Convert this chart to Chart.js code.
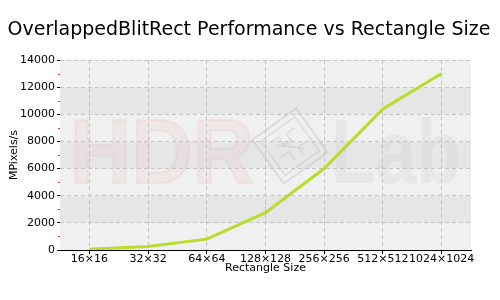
<!DOCTYPE html>
<html>
<head>
<meta charset="utf-8">
<script src="https://cdn.jsdelivr.net/npm/chart.js@4"></script>
<style>
  body { margin: 0; background: #fff; }
  canvas { display: block; }
</style>
</head>
<body>
<canvas id="chart" width="500" height="300"></canvas>
<script>
// Data
const categories = ['16×16', '32×32', '64×64', '128×128', '256×256', '512×512', '1024×1024'];
const mpixels = [50, 250, 800, 2750, 6000, 10400, 13000];
const yMin = 0;
const yMax = 14000;
const yStep = 2000;
const chartTitle = 'OverlappedBlitRect Performance vs Rectangle Size';

const FONT = 'DejaVu Sans, Verdana, sans-serif';

// Striped plot background + faint HDR Lab watermark
const backdrop = {
  id: 'backdrop',
  beforeDraw(chart) {
    const { ctx, chartArea: a, scales: { y } } = chart;
    ctx.save();
    for (let v = yMin, i = 0; v < yMax; v += yStep, i++) {
      const top = y.getPixelForValue(v + yStep);
      const bot = y.getPixelForValue(v);
      ctx.fillStyle = i % 2 ? '#e6e6e6' : '#f0f0f0';
      ctx.fillRect(a.left, top, a.right - a.left, bot - top);
    }

    ctx.beginPath();
    ctx.rect(a.left, a.top, a.right - a.left, a.bottom - a.top);
    ctx.clip();

    // "HDR"
    ctx.font = 'bold 90px "Liberation Sans", Arial, sans-serif';
    ctx.textBaseline = 'alphabetic';
    let w = ctx.measureText('HDR').width;
    ctx.save();
    ctx.translate(70, 183);
    ctx.scale(184 / w, 1);
    ctx.fillStyle = 'rgba(240, 170, 170, 0.12)';
    ctx.fillText('HDR', 0, 0);
    ctx.lineWidth = 2;
    ctx.strokeStyle = 'rgba(220, 150, 150, 0.12)';
    ctx.strokeText('HDR', 0, 0);
    ctx.restore();

    // "Lab"
    w = ctx.measureText('Lab').width;
    ctx.save();
    ctx.translate(331, 183);
    ctx.scale(130 / w, 1);
    ctx.fillStyle = 'rgba(170, 170, 170, 0.12)';
    ctx.fillText('Lab', 0, 0);
    ctx.restore();

    // tilted chip logo
    ctx.save();
    ctx.translate(290, 146);
    ctx.rotate(-0.62);
    ctx.strokeStyle = 'rgba(160, 160, 160, 0.25)';
    ctx.lineWidth = 2;
    ctx.strokeRect(-27, -27, 54, 54);
    ctx.lineWidth = 1.5;
    ctx.strokeRect(-21, -21, 42, 42);
    ctx.beginPath();
    ctx.moveTo(-14, -14); ctx.lineTo(-4, -14); ctx.lineTo(-4, -4); ctx.lineTo(6, -4);
    ctx.moveTo(14, -12); ctx.lineTo(4, -12); ctx.lineTo(4, -2);
    ctx.moveTo(-14, 4); ctx.lineTo(-4, 4); ctx.lineTo(-4, 14);
    ctx.moveTo(14, 6); ctx.lineTo(6, 6); ctx.lineTo(6, 14);
    ctx.moveTo(-10, -8); ctx.lineTo(10, 10);
    ctx.stroke();
    ctx.restore();

    ctx.restore();
  },
  afterDraw(chart) {
    const { ctx, chartArea: a, scales: { y } } = chart;
    ctx.save();
    // title, centred on the whole canvas
    ctx.fillStyle = '#000';
    ctx.font = '19px ' + FONT;
    ctx.textAlign = 'center';
    ctx.textBaseline = 'middle';
    ctx.fillText(chartTitle, 249, 30);

    // small red minor ticks between the labelled ones
    ctx.strokeStyle = '#ff3030';
    ctx.lineWidth = 1;
    for (let v = yMin + yStep / 2; v < yMax; v += yStep) {
      const py = Math.round(y.getPixelForValue(v)) + 0.5;
      ctx.beginPath();
      ctx.moveTo(a.left - 2, py);
      ctx.lineTo(a.left, py);
      ctx.stroke();
    }
    ctx.restore();
  }
};

new Chart(document.getElementById('chart'), {
  type: 'line',
  data: {
    labels: categories,
    datasets: [{
      label: 'OverlappedBlitRect',
      data: mpixels,
      borderColor: '#b8dc2c',
      borderWidth: 3,
      pointRadius: 0,
      tension: 0,
      fill: false
    }]
  },
  options: {
    responsive: false,
    animation: false,
    layout: { padding: { left: 0, right: 29, top: 60, bottom: 0 } },
    plugins: {
      legend: { display: false },
      tooltip: { enabled: false },
      title: { display: false }
    },
    scales: {
      x: {
        offset: true,
        afterFit(scale) { scale.height = 50; },
        grid: {
          offset: false,
          color: '#c4c4c4',
          tickColor: '#000',
          tickLength: 4,
          tickBorderDash: []
        },
        border: { display: true, color: '#000', width: 1, dash: [4, 3] },
        ticks: {
          autoSkip: false,
          maxRotation: 0,
          minRotation: 0,
          padding: 0,
          color: '#000',
          font: { family: FONT, size: 11, lineHeight: 1 }
        },
        title: {
          display: true,
          text: 'Rectangle Size',
          color: '#000',
          font: { family: FONT, size: 11 },
          padding: { top: 0, bottom: 25 }
        }
      },
      y: {
        min: yMin,
        max: yMax,
        afterFit(scale) { scale.width = 60; },
        grid: {
          color: '#c4c4c4',
          tickColor: '#000',
          tickLength: 3,
          tickBorderDash: []
        },
        border: { display: false, dash: [4, 3] },
        ticks: {
          stepSize: yStep,
          padding: 2,
          color: '#000',
          font: { family: FONT, size: 11 },
          callback: (v) => String(v)
        },
        title: {
          display: true,
          text: 'MPixels/s',
          color: '#000',
          font: { family: FONT, size: 11 },
          padding: { top: 8, bottom: 0 }
        }
      }
    }
  },
  plugins: [backdrop]
});
</script>
</body>
</html>
